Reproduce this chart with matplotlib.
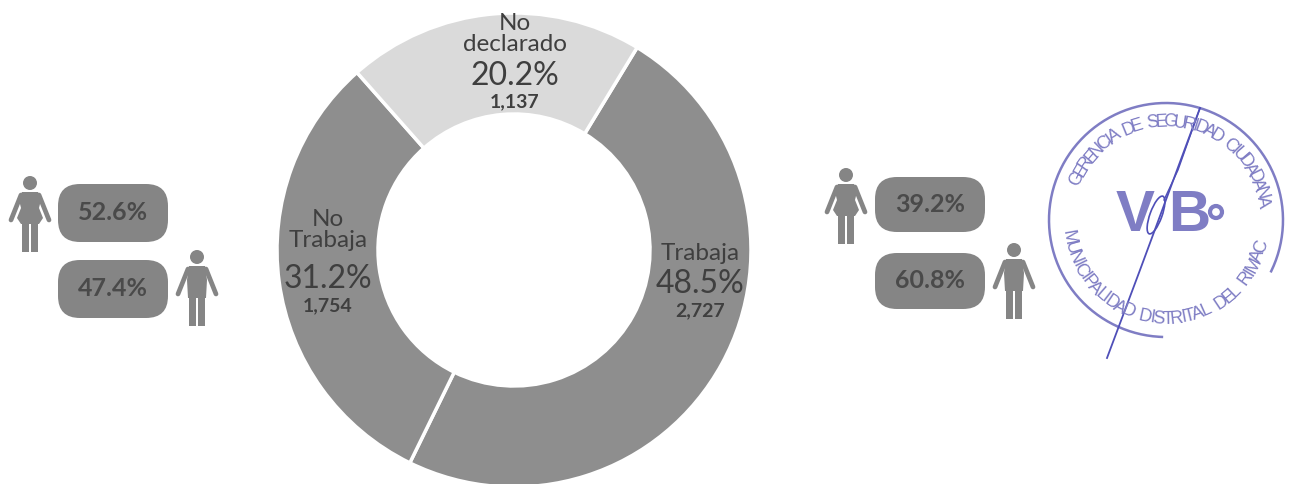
# Dona de condicion laboral con pastillas por sexo y sello

import numpy as np
import matplotlib
matplotlib.use('Agg')
import matplotlib.pyplot as plt
from matplotlib.patches import Circle, Ellipse, FancyBboxPatch, Polygon, Rectangle

plt.rcParams['font.family'] = ['Lato', 'DejaVu Sans']

categorias = ['Trabaja', 'No\nTrabaja', 'No\ndeclarado']
porcentajes = [48.5, 31.2, 20.2]
personas = ['2,727', '1,754', '1,137']
colores = ['#8e8e8e', '#8e8e8e', '#dadada']

sexo_izq = ['52.6%', '47.4%']
sexo_der = ['39.2%', '60.8%']

GRIS = '#858585'
TEXTO = '#3f3f3f'
SELLO = '#7f7dc4'
TINTA = '#4f4fb8'
FUENTE_SELLO = ['Liberation Sans Narrow', 'Liberation Sans']


def rotulo(ax, x, y_nombre, y_pct, y_num, nombre, pct, num):
    ax.text(x, y_nombre, nombre, ha='center', va='center', fontsize=17.5,
            color=TEXTO, linespacing=1.0)
    ax.text(x, y_pct, f'{pct}%', ha='center', va='center', fontsize=23, color=TEXTO)
    ax.text(x, y_num, num, ha='center', va='center', fontsize=14, fontweight='bold', color=TEXTO)


def pastilla(ax, x, y, ancho, alto, texto):
    ax.add_patch(FancyBboxPatch((x + 22, y + 22), ancho - 44, alto - 44,
                                boxstyle='round,pad=22,rounding_size=22',
                                fc=GRIS, ec='none'))
    ax.text(x + ancho / 2, y + alto / 2, texto, ha='center', va='center',
            fontsize=18, fontweight='bold', color='#4a4a4a')


def persona(ax, cx, arriba, mujer=False):
    # icono de 76 px de alto, arriba = borde superior de la cabeza
    ax.add_patch(Circle((cx, arriba + 7), 7, fc=GRIS, ec='none'))
    if mujer:
        cuerpo = [(-8, 16), (8, 16), (11, 24), (9, 32), (13, 42), (9, 48), (-9, 48), (-13, 42), (-9, 32), (-11, 24)]
    else:
        cuerpo = [(-8, 16), (8, 16), (10, 30), (9, 48), (-9, 48), (-10, 30)]
    ax.add_patch(Polygon([(cx + a, arriba + b) for a, b in cuerpo], fc=GRIS, ec='none'))
    for s in (-1, 1):
        ax.plot([cx + s * 9, cx + s * 19], [arriba + 19, arriba + 44],
                color=GRIS, lw=3.4, solid_capstyle='round')
        ax.add_patch(Rectangle((cx + (1.0 if s > 0 else -8.0), arriba + 46), 7, 30,
                               fc=GRIS, ec='none'))


def texto_arco(fig, ax, cx, cy, r, texto, ang_ini, ang_fin, abajo=False, size=13):
    # reparte las letras segun su ancho real para que no queden pegadas
    rend = fig.canvas.get_renderer()
    anchos = []
    for letra in texto:
        prueba = ax.text(0, 0, letra if letra != ' ' else 'n', fontsize=size, family=FUENTE_SELLO)
        anchos.append(prueba.get_window_extent(rend).width + 1)
        prueba.remove()
    anchos = np.array(anchos)
    bordes = np.concatenate([[0], np.cumsum(anchos)])
    centros = (bordes[:-1] + bordes[1:]) / 2 / bordes[-1]
    for letra, f in zip(texto, centros):
        ang = ang_ini + (ang_fin - ang_ini) * f
        rad = np.radians(ang)
        x = cx + r * np.cos(rad)
        y = cy - r * np.sin(rad)
        giro = ang + 90 if abajo else ang - 90
        ax.text(x, y, letra, rotation=giro, rotation_mode='anchor', ha='center',
                va='center', fontsize=size, color=SELLO, family=FUENTE_SELLO)


fig = plt.figure(figsize=(12.91, 4.84), dpi=100)
ax = fig.add_axes([0, 0, 1, 1])

# el eje y va invertido, por eso el angulo va con signo contrario
ax.pie(porcentajes, colors=colores, startangle=-58.7, counterclock=True,
       center=(514, 250), radius=237, frame=False,
       wedgeprops=dict(width=101, edgecolor='white', linewidth=2.5))
ax.set_xlim(0, 1291)
ax.set_ylim(484, 0)
ax.set_aspect('auto')
ax.axis('off')

rotulo(ax, 700, 254, 284, 311, categorias[0], porcentajes[0], personas[0])
rotulo(ax, 328, 230, 279, 306, categorias[1], porcentajes[1], personas[1])
rotulo(ax, 515, 34, 76, 102, categorias[2], porcentajes[2], personas[2])

# bloque izquierdo
pastilla(ax, 58, 184, 110, 58, sexo_izq[0])
pastilla(ax, 58, 260, 110, 58, sexo_izq[1])
persona(ax, 30, 176, mujer=True)
persona(ax, 197, 250)

# bloque derecho
pastilla(ax, 875, 177, 110, 55, sexo_der[0])
pastilla(ax, 875, 253, 110, 56, sexo_der[1])
persona(ax, 846, 168, mujer=True)
persona(ax, 1014, 243)

# sello
cx, cy, r = 1166, 220, 117
t = np.radians(np.linspace(-26, 268, 200))
ax.plot(cx + r * np.cos(t), cy - r * np.sin(t), color=SELLO, lw=1.8)
texto_arco(fig, ax, cx, cy, 98, 'GERENCIA DE SEGURIDAD CIUDADANA', 158, 8)
texto_arco(fig, ax, cx, cy, 99, 'MUNICIPALIDAD DISTRITAL DEL RIMAC', 187, 347, abajo=True)
ax.text(1154, 216, 'V', fontsize=42, fontweight='bold', color=SELLO, ha='right',
        va='center', family='Liberation Sans')
ax.text(1168, 216, 'B', fontsize=42, fontweight='bold', color=SELLO, ha='left',
        va='center', family='Liberation Sans')
ax.add_patch(Circle((1216, 212), 6, fc='none', ec=SELLO, lw=3))
ax.add_patch(Ellipse((1156, 215), 12, 40, angle=20, fc='none', ec=TINTA, lw=1.2))
ax.plot([1200, 1140, 1107], [108, 270, 358], color=TINTA, lw=1.3)
ax.plot([1200, 1178, 1164], [108, 170, 200], color=TINTA, lw=1.0)

fig.savefig('out.png', dpi=100, facecolor='white')
